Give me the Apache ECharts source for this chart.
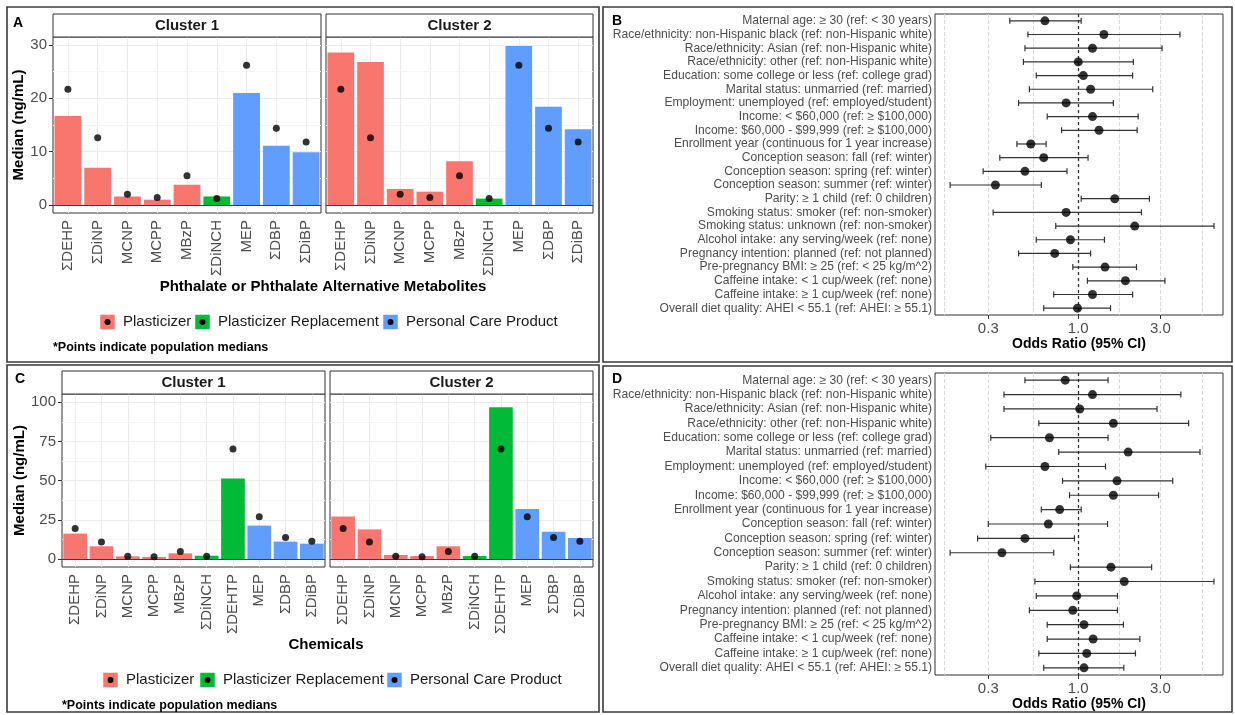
<!DOCTYPE html>
<html>
<head>
<meta charset="utf-8">
<script src="https://cdn.jsdelivr.net/npm/echarts@6/dist/echarts.min.js"></script>
<style>
  html, body { margin: 0; padding: 0; background: #fff; }
  #chart { width: 1235px; height: 715px; }
</style>
</head>
<body>
<div id="chart"></div>
<script>
const FONT = '"Liberation Sans", Arial, sans-serif';

// ---- Panel A: phthalate / alternative metabolite medians (ng/mL) by cluster ----
const chemicalsA = ['ΣDEHP', 'ΣDiNP', 'MCNP', 'MCPP', 'MBzP', 'ΣDiNCH', 'MEP', 'ΣDBP', 'ΣDiBP'];
const sourceA = ['Plasticizer', 'Plasticizer', 'Plasticizer', 'Plasticizer', 'Plasticizer',
  'Plasticizer Replacement', 'Personal Care Product', 'Personal Care Product', 'Personal Care Product'];
const cluster1A = [16.7, 7.0, 1.6, 1.0, 3.8, 1.6, 21.0, 11.1, 9.9];
const cluster2A = [28.6, 26.8, 3.0, 2.5, 8.2, 1.2, 29.8, 18.4, 14.2];
const populationA = [21.7, 12.6, 2.0, 1.4, 5.5, 1.2, 26.2, 14.4, 11.8];
const yTicksA = [0, 10, 20, 30];
const yMinorA = [5, 15, 25];

// ---- Panel C: chemical medians (ng/mL) by cluster ----
const chemicalsC = ['ΣDEHP', 'ΣDiNP', 'MCNP', 'MCPP', 'MBzP', 'ΣDiNCH', 'ΣDEHTP', 'MEP', 'ΣDBP', 'ΣDiBP'];
const sourceC = ['Plasticizer', 'Plasticizer', 'Plasticizer', 'Plasticizer', 'Plasticizer',
  'Plasticizer Replacement', 'Plasticizer Replacement', 'Personal Care Product', 'Personal Care Product', 'Personal Care Product'];
const cluster1C = [16.2, 8.1, 1.7, 1.3, 3.6, 2.1, 51.3, 21.3, 11.1, 9.8];
const cluster2C = [27.2, 18.9, 2.6, 1.9, 8.1, 1.9, 96.8, 31.9, 17.4, 13.4];
const populationC = [19.4, 10.9, 1.8, 1.4, 4.8, 1.8, 70.2, 27.0, 13.8, 11.3];
const yTicksC = [0, 25, 50, 75, 100];
const yMinorC = [12.5, 37.5, 62.5, 87.5];

// ---- Panels B and D: odds ratios (95% CI) ----
const predictorsB = [
  'Maternal age: ≥ 30 (ref: < 30 years)',
  'Race/ethnicity: non-Hispanic black (ref: non-Hispanic white)',
  'Race/ethnicity: Asian (ref: non-Hispanic white)',
  'Race/ethnicity: other (ref: non-Hispanic white)',
  'Education: some college or less (ref: college grad)',
  'Marital status: unmarried (ref: married)',
  'Employment: unemployed (ref: employed/student)',
  'Income: < $60,000 (ref: ≥ $100,000)',
  'Income: $60,000 - $99,999 (ref: ≥ $100,000)',
  'Enrollment year (continuous for 1 year increase)',
  'Conception season: fall (ref: winter)',
  'Conception season: spring (ref: winter)',
  'Conception season: summer (ref: winter)',
  'Parity: ≥ 1 child (ref: 0 children)',
  'Smoking status: smoker (ref: non-smoker)',
  'Smoking status: unknown (ref: non-smoker)',
  'Alcohol intake: any serving/week (ref: none)',
  'Pregnancy intention: planned (ref: not planned)',
  'Pre-pregnancy BMI: ≥ 25 (ref: < 25 kg/m^2)',
  'Caffeine intake: < 1 cup/week (ref: none)',
  'Caffeine intake: ≥ 1 cup/week (ref: none)',
  'Overall diet quality: AHEI < 55.1 (ref: AHEI: ≥ 55.1)'
];
const oddsB  = [0.64, 1.41, 1.21, 1.00, 1.07, 1.18, 0.85, 1.21, 1.32, 0.53, 0.63, 0.49, 0.33, 1.63, 0.85, 2.13, 0.90, 0.73, 1.43, 1.88, 1.21, 0.99];
const lowerB = [0.40, 0.51, 0.49, 0.48, 0.57, 0.52, 0.45, 0.66, 0.80, 0.44, 0.35, 0.28, 0.18, 1.04, 0.32, 0.74, 0.57, 0.45, 0.93, 1.13, 0.72, 0.63];
const upperB = [1.04, 3.90, 3.07, 2.09, 2.07, 2.71, 1.60, 2.23, 2.20, 0.65, 1.14, 0.86, 0.61, 2.59, 2.33, 6.15, 1.42, 1.18, 2.18, 3.19, 2.07, 1.54];

const predictorsD = predictorsB.filter(p => p !== 'Smoking status: unknown (ref: non-smoker)');
const oddsD  = [0.84, 1.21, 1.02, 1.60, 0.68, 1.95, 0.64, 1.68, 1.60, 0.78, 0.67, 0.49, 0.36, 1.55, 1.85, 0.98, 0.93, 1.08, 1.22, 1.12, 1.08];
const lowerD = [0.49, 0.37, 0.37, 0.59, 0.31, 0.77, 0.29, 0.81, 0.89, 0.61, 0.30, 0.26, 0.18, 0.90, 0.56, 0.57, 0.52, 0.66, 0.66, 0.59, 0.63];
const upperD = [1.49, 3.95, 2.87, 4.38, 1.49, 5.10, 1.44, 3.54, 2.93, 1.04, 1.48, 0.95, 0.72, 2.67, 6.15, 1.69, 1.69, 1.83, 2.28, 2.15, 1.84];

const orTicks = [0.3, 1.0, 3.0];
const orLimits = [0.147, 6.94];

const sourceColors = {
  'Plasticizer': '#F8766D',
  'Plasticizer Replacement': '#00BA38',
  'Personal Care Product': '#619CFF'
};
const legendOrder = ['Plasticizer', 'Plasticizer Replacement', 'Personal Care Product'];

const log10 = v => Math.log10(v);
// minor breaks sit halfway between major breaks on the log scale
const orMinor = (() => {
  const lt = orTicks.map(log10);
  const out = [lt[0] - (lt[1] - lt[0]) / 2];
  for (let i = 0; i < lt.length - 1; i++) out.push((lt[i] + lt[i + 1]) / 2);
  out.push(lt[lt.length - 1] + (lt[lt.length - 1] - lt[lt.length - 2]) / 2);
  return out;
})();

const chart = echarts.init(document.getElementById('chart'), null, { renderer: 'canvas' });

const grids = [
  { left: 53,  top: 37,  width: 268, height: 176 },  // A, cluster 1
  { left: 326, top: 37,  width: 267, height: 176 },  // A, cluster 2
  { left: 62,  top: 394, width: 263, height: 173 },  // C, cluster 1
  { left: 330, top: 394, width: 263, height: 173 },  // C, cluster 2
  { left: 935, top: 14,  width: 288, height: 301 },  // B
  { left: 935, top: 373, width: 288, height: 302 }   // D
].map(g => Object.assign({ show: true, borderColor: '#333', borderWidth: 1, backgroundColor: 'transparent', containLabel: false }, g));

const xAxes = [];
const yAxes = [];
const series = [];

function barPanel(idx, cats, sources, values, pop, yMin, yMax, ticks, minor, showY, yGap) {
  xAxes.push({
    type: 'category', gridIndex: idx, data: cats,
    axisLine: { show: false },
    axisTick: { show: true, length: 4, alignWithLabel: true, lineStyle: { color: '#333' } },
    axisLabel: { rotate: 90, interval: 0, fontSize: 15, color: '#4d4d4d', margin: 7, fontFamily: FONT },
    splitLine: { show: false }
  });
  yAxes.push({
    type: 'value', gridIndex: idx, min: yMin, max: yMax,
    name: showY ? 'Median (ng/mL)' : '',
    nameLocation: 'middle', nameRotate: 90, nameGap: yGap,
    nameTextStyle: { fontSize: 15, fontWeight: 'bold', color: '#000', fontFamily: FONT },
    axisLine: { show: false },
    axisTick: { show: showY, length: 4, customValues: ticks, lineStyle: { color: '#333' } },
    axisLabel: { show: showY, customValues: ticks, fontSize: 15, color: '#4d4d4d', margin: 6, fontFamily: FONT },
    splitLine: { show: true, lineStyle: { color: '#ebebeb', width: 1 } }
  });
  // background grid: vertical lines at each category, minor horizontal lines
  series.push({
    type: 'line', xAxisIndex: idx, yAxisIndex: idx, data: [], z: 1, silent: true,
    markLine: {
      z: 1, silent: true, symbol: 'none', label: { show: false }, animation: false,
      lineStyle: { color: '#ebebeb', width: 1, type: 'solid' },
      data: cats.map(c => ({ xAxis: c }))
        .concat(minor.map(v => ({ yAxis: v, lineStyle: { color: '#f4f4f4', width: 1, type: 'solid' } })))
    }
  });
  series.push({
    type: 'bar', xAxisIndex: idx, yAxisIndex: idx, z: 2,
    barCategoryGap: '10%',
    data: values.map((v, i) => ({ value: v, itemStyle: { color: sourceColors[sources[i]] } })),
    markLine: {
      z: 3, silent: true, symbol: 'none', label: { show: false }, animation: false,
      lineStyle: { color: '#3d3d3d', width: 1.2, type: 'solid' },
      data: [{ yAxis: 0 }]
    }
  });
  series.push({
    type: 'scatter', xAxisIndex: idx, yAxisIndex: idx, z: 4,
    symbolSize: 7, itemStyle: { color: '#000' },
    data: pop
  });
}

barPanel(0, chemicalsA, sourceA, cluster1A, populationA, -1.5, 31.5, yTicksA, yMinorA, true, 23);
barPanel(1, chemicalsA, sourceA, cluster2A, populationA, -1.5, 31.5, yTicksA, yMinorA, false, 0);
barPanel(2, chemicalsC, sourceC, cluster1C, populationC, -5.1, 105.3, yTicksC, yMinorC, true, 30);
barPanel(3, chemicalsC, sourceC, cluster2C, populationC, -5.1, 105.3, yTicksC, yMinorC, false, 0);

function forestPanel(idx, labels, odds, lower, upper) {
  xAxes.push({
    type: 'value', gridIndex: idx, min: log10(orLimits[0]), max: log10(orLimits[1]),
    name: 'Odds Ratio (95% CI)', nameLocation: 'middle', nameGap: 21,
    nameTextStyle: { fontSize: 14, fontWeight: 'bold', color: '#000', fontFamily: FONT },
    axisLine: { show: false },
    axisTick: { show: true, length: 4, customValues: orTicks.map(log10), lineStyle: { color: '#333' } },
    axisLabel: {
      customValues: orTicks.map(log10), fontSize: 15, color: '#4d4d4d', margin: 6, fontFamily: FONT,
      formatter: v => Math.pow(10, v).toFixed(1)
    },
    splitLine: { show: true, lineStyle: { color: '#d9d9d9', width: 1, type: 'dashed' } }
  });
  yAxes.push({
    type: 'category', gridIndex: idx, data: labels, inverse: true,
    axisLine: { show: false }, axisTick: { show: false },
    axisLabel: { interval: 0, fontSize: 12.1, color: '#4d4d4d', margin: 3, fontFamily: FONT },
    splitLine: { show: false }
  });
  series.push({
    type: 'line', xAxisIndex: idx, yAxisIndex: idx, data: [], z: 1, silent: true,
    markLine: {
      z: 1, silent: true, symbol: 'none', label: { show: false }, animation: false,
      lineStyle: { color: '#d9d9d9', width: 1, type: 'dashed' },
      data: orMinor.map(v => ({ xAxis: v }))
        .concat([{ xAxis: 0, lineStyle: { color: '#333', width: 1.3, type: [3, 3] } }])
    }
  });
  series.push({
    type: 'custom', xAxisIndex: idx, yAxisIndex: idx, z: 2,
    encode: { x: [0, 1], y: 2 },
    data: labels.map((l, i) => [log10(lower[i]), log10(upper[i]), i]),
    renderItem: (params, api) => {
      const lo = api.coord([api.value(0), api.value(2)]);
      const hi = api.coord([api.value(1), api.value(2)]);
      const h = 3;
      const style = { stroke: '#333', lineWidth: 1.2 };
      return {
        type: 'group',
        children: [
          { type: 'line', shape: { x1: lo[0], y1: lo[1], x2: hi[0], y2: hi[1] }, style },
          { type: 'line', shape: { x1: lo[0], y1: lo[1] - h, x2: lo[0], y2: lo[1] + h }, style },
          { type: 'line', shape: { x1: hi[0], y1: hi[1] - h, x2: hi[0], y2: hi[1] + h }, style }
        ]
      };
    }
  });
  series.push({
    type: 'scatter', xAxisIndex: idx, yAxisIndex: idx, z: 3,
    symbolSize: 9, itemStyle: { color: '#000' },
    data: odds.map((v, i) => [log10(v), i])
  });
}

forestPanel(4, predictorsB, oddsB, lowerB, upperB);
forestPanel(5, predictorsD, oddsD, lowerD, upperD);

// ---- decorations: panel frames, facet strips, titles, legends ----
const graphic = [];
const frame = (x, y, w, h) => graphic.push({
  type: 'rect', shape: { x, y, width: w, height: h }, z: 0,
  style: { fill: 'none', stroke: '#3a3a3a', lineWidth: 1.6 }
});
frame(7, 7, 592, 355);
frame(603, 7, 629, 355);
frame(7, 365, 592, 347);
frame(603, 366, 629, 346);

const strip = (g, label) => {
  const gr = grids[g];
  graphic.push({
    type: 'rect', shape: { x: gr.left, y: gr.top - 23, width: gr.width, height: 23 }, z: 5,
    style: { fill: '#fff', stroke: '#333', lineWidth: 1 }
  });
  graphic.push({
    type: 'text', x: gr.left + gr.width / 2, y: gr.top - 11.5, z: 6,
    style: { text: label, font: 'bold 15px ' + FONT, fill: '#1a1a1a', align: 'center', verticalAlign: 'middle' }
  });
};
strip(0, 'Cluster 1'); strip(1, 'Cluster 2');
strip(2, 'Cluster 1'); strip(3, 'Cluster 2');

const text = (x, y, t, font, align, color) => graphic.push({
  type: 'text', x, y, z: 6,
  style: { text: t, font, fill: color || '#000', align: align || 'left', verticalAlign: 'middle' }
});
text(13, 23, 'A', 'bold 14px ' + FONT);
text(612, 21, 'B', 'bold 14px ' + FONT);
text(15, 379, 'C', 'bold 14px ' + FONT);
text(612, 379, 'D', 'bold 14px ' + FONT);

text(323, 287, 'Phthalate or Phthalate Alternative Metabolites', 'bold 15px ' + FONT, 'center');
text(326, 645, 'Chemicals', 'bold 15px ' + FONT, 'center');
text(53, 348, '*Points indicate population medians', 'bold 12.5px ' + FONT);
text(62, 706, '*Points indicate population medians', 'bold 12.5px ' + FONT);

const legend = (keysX, y) => {
  legendOrder.forEach((name, i) => {
    const x = keysX[i];
    graphic.push({
      type: 'rect', shape: { x, y: y - 7.5, width: 15, height: 15 }, z: 6,
      style: { fill: sourceColors[name], stroke: 'rgba(255,255,255,0.5)', lineWidth: 1 }
    });
    graphic.push({
      type: 'circle', shape: { cx: x + 7.5, cy: y, r: 3 }, z: 7,
      style: { fill: '#000' }
    });
    text(x + 23, y, name, '15px ' + FONT, 'left', '#1a1a1a');
  });
};
legend([100, 195, 383], 322);
legend([103, 200, 387], 680);

chart.setOption({
  animation: false,
  backgroundColor: '#fff',
  textStyle: { fontFamily: FONT },
  grid: grids,
  xAxis: xAxes,
  yAxis: yAxes,
  series,
  graphic
});
</script>
</body>
</html>
